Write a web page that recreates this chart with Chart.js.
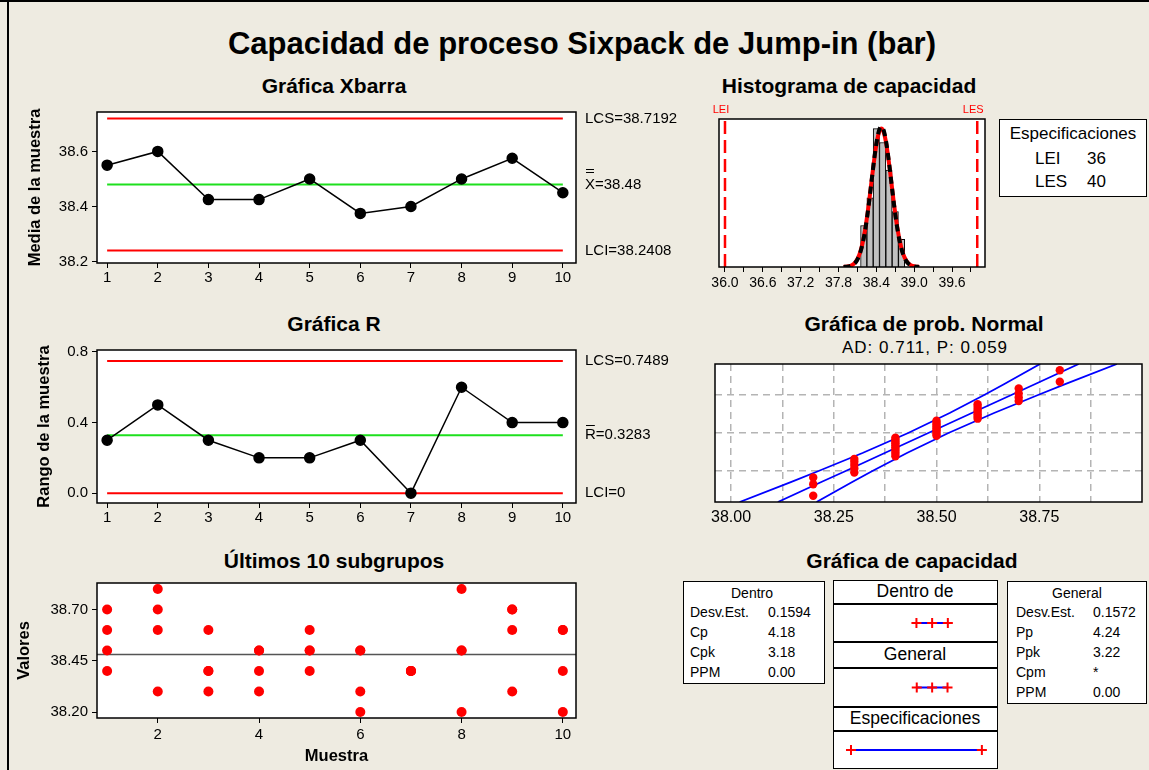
<!DOCTYPE html>
<html lang="es">
<head>
<meta charset="utf-8">
<title>Capacidad de proceso Sixpack de Jump-in (bar)</title>
<script src="https://cdn.jsdelivr.net/npm/chart.js@4.4.1/dist/chart.umd.min.js"></script>
<style>
  html, body { margin: 0; padding: 0; }
  body { width: 1149px; height: 770px; position: relative; overflow: hidden; background: #EEEBE1;
         font-family: "Liberation Sans", Arial, sans-serif; color: #000; }
  .rule { position: absolute; background: #000; }
  .txt { position: absolute; white-space: nowrap; transform: translate(-50%, -50%); line-height: 1; }
  .lft { position: absolute; white-space: nowrap; transform: translateY(-50%); line-height: 1; }
  .box { position: absolute; background: #fff; border: 1.5px solid #000; box-sizing: border-box; }
  canvas { position: absolute; }
</style>
</head>
<body>
<div class="rule" style="left:0;top:0;width:1149px;height:2px"></div>
<div class="rule" style="left:7px;top:0;width:2px;height:770px"></div>
<script>
// ---- data ----
const subgroups = [1, 2, 3, 4, 5, 6, 7, 8, 9, 10];
const sampleMeans = [38.55, 38.6, 38.425, 38.425, 38.5, 38.375, 38.4, 38.5, 38.575, 38.45];
const sampleRanges = [0.3, 0.5, 0.3, 0.2, 0.2, 0.3, 0.0, 0.6, 0.4, 0.4];
const subgroupValues = [
  [38.7, 38.6, 38.5, 38.4],
  [38.8, 38.7, 38.6, 38.3],
  [38.6, 38.4, 38.4, 38.3],
  [38.5, 38.5, 38.4, 38.3],
  [38.6, 38.5, 38.5, 38.4],
  [38.5, 38.5, 38.3, 38.2],
  [38.4, 38.4, 38.4, 38.4],
  [38.8, 38.5, 38.5, 38.2],
  [38.7, 38.7, 38.6, 38.3],
  [38.6, 38.6, 38.4, 38.2]
];
const xbarLimits = [38.7192, 38.48, 38.2408];   // LCS, media, LCI
const rLimits = [0.7489, 0.3283, 0];
const xbarTicks = [38.2, 38.4, 38.6];
const rTicks = [0.0, 0.4, 0.8];
const lastTicksY = [38.20, 38.45, 38.70];
const lastTicksX = [2, 4, 6, 8, 10];

const histBins = [38.2, 38.3, 38.4, 38.5, 38.6, 38.7, 38.8];
const histCounts = [3, 5, 10, 9, 7, 4, 2];
const histTicks = [36.0, 36.3, 36.6, 36.9, 37.2, 37.5, 37.8, 38.1, 38.4, 38.7, 39.0, 39.3, 39.6, 39.9];
const specNames = ["LEI", "LES"];
const specLimits = [36, 40];
const processMean = 38.48;
const sigmaWithin = 0.1594;
const sigmaOverall = 0.1572;

const probTicksX = [38.0, 38.125, 38.25, 38.375, 38.5, 38.625, 38.75, 38.875];
const probGridZ = [-1.2816, 0, 1.2816];
const fitZ = [-2.326, -1.645, -1.2816, -0.674, 0, 0.674, 1.2816, 1.645, 2.326];
const fitLine = [38.114, 38.221, 38.279, 38.374, 38.48, 38.586, 38.682, 38.739, 38.846];
const bandLow = [38.021, 38.147, 38.213, 38.320, 38.431, 38.532, 38.616, 38.664, 38.752];
const bandHigh = [38.208, 38.296, 38.344, 38.428, 38.529, 38.640, 38.747, 38.813, 38.939];

const withinLabels = ["Desv.Est.", "Cp", "Cpk", "PPM"];
const withinValues = ["0.1594", "4.18", "3.18", "0.00"];
const overallLabels = ["Desv.Est.", "Pp", "Ppk", "Cpm", "PPM"];
const overallValues = ["0.1572", "4.24", "3.22", "*", "0.00"];
const capWithin = [38.0, 38.48, 38.96];
const capOverall = [38.01, 38.48, 38.95];

// ---- helpers ----
Chart.defaults.font.family = "'Liberation Sans', Arial, sans-serif";
Chart.defaults.font.size = 15;
Chart.defaults.color = "#000";
Chart.defaults.animation = false;
Chart.defaults.responsive = false;
Chart.defaults.plugins.legend.display = false;
Chart.defaults.plugins.tooltip.enabled = false;

function text(str, x, y, style, cls) {
  const d = document.createElement("div");
  d.className = cls || "txt";
  d.textContent = str;
  d.style.left = x + "px";
  d.style.top = y + "px";
  Object.assign(d.style, style || {});
  document.body.appendChild(d);
}
function box(l, t, r, b) {
  const d = document.createElement("div");
  d.className = "box";
  Object.assign(d.style, { left: l + "px", top: t + "px", width: (r - l) + "px", height: (b - t) + "px" });
  document.body.appendChild(d);
}

// area = [left, top, right, bottom] of the plot box, m = [left, right, top, bottom] margins
function panel(area, m, config) {
  const c = document.createElement("canvas");
  c.width = area[2] - area[0] + m[0] + m[1];
  c.height = area[3] - area[1] + m[2] + m[3];
  c.style.left = (area[0] - m[0]) + "px";
  c.style.top = (area[1] - m[2]) + "px";
  document.body.appendChild(c);
  const sc = config.options.scales;
  const yShown = sc.y.display !== false, xShown = sc.x.display !== false;
  if (yShown) sc.y.afterFit = s => { s.width = m[0]; };
  if (xShown) sc.x.afterFit = s => { s.height = m[3]; };
  config.options.layout = { padding: { left: yShown ? 0 : m[0], right: m[1], top: m[2], bottom: xShown ? 0 : m[3] } };
  return new Chart(c, config);
}

const framePlugin = {
  id: "frame",
  beforeDraw(chart) {
    const a = chart.chartArea, ctx = chart.ctx;
    ctx.save();
    ctx.fillStyle = "#fff";
    ctx.fillRect(a.left, a.top, a.right - a.left, a.bottom - a.top);
    ctx.restore();
  },
  afterDraw(chart) {
    const a = chart.chartArea, ctx = chart.ctx;
    ctx.save();
    ctx.strokeStyle = "#000";
    ctx.lineWidth = 1.5;
    ctx.strokeRect(a.left, a.top, a.right - a.left, a.bottom - a.top);
    ctx.restore();
  }
};

const limitLabels = {
  id: "limitLabels",
  afterDraw(chart, args, opts) {
    if (!opts.items) return;
    const ctx = chart.ctx, ys = chart.scales.y, x0 = chart.chartArea.right + 9;
    ctx.save();
    ctx.font = "15px 'Liberation Sans', Arial, sans-serif";
    ctx.fillStyle = "#000";
    ctx.strokeStyle = "#000";
    ctx.textBaseline = "middle";
    opts.items.forEach(it => {
      const py = ys.getPixelForValue(it.value);
      ctx.fillText(it.text, x0, py);
      (it.bars || []).forEach(off => {
        const w = ctx.measureText(it.text[0]).width;
        ctx.lineWidth = 1;
        ctx.beginPath();
        ctx.moveTo(x0 + 1, Math.round(py - off) + 0.5);
        ctx.lineTo(x0 + w - 1, Math.round(py - off) + 0.5);
        ctx.stroke();
      });
    });
    ctx.restore();
  }
};

function tickAxis(min, max, ticks, fmt, pad, size, extra) {
  return Object.assign({
    type: "linear", min, max, offset: false,
    afterBuildTicks: s => { s.ticks = ticks.map(v => ({ value: v })); },
    ticks: { callback: fmt, padding: pad, font: { size }, maxRotation: 0, autoSkip: false },
    grid: { offset: false, drawOnChartArea: false, drawTicks: true, tickLength: 5, color: "#000", lineWidth: 1 },
    border: { display: false }
  }, extra || {});
}
function hline(value, color, x0, x1, width) {
  return { type: "line", data: [{ x: x0, y: value }, { x: x1, y: value }],
           borderColor: color, borderWidth: width || 2, pointRadius: 0 };
}
const RED = "#FF0000", GREEN = "#1EE01E";
const X_MIN = 0.8, X_MAX = 10.26;

// ---- titles ----
text("Capacidad de proceso Sixpack de Jump-in (bar)", 582, 43, { fontSize: "31px", fontWeight: "bold" });
const subTitle = { fontSize: "21px", fontWeight: "bold" };
text("Gráfica Xbarra", 334, 85, subTitle);
text("Histograma de capacidad", 849, 85, subTitle);
text("Gráfica R", 334, 323, subTitle);
text("Gráfica de prob. Normal", 924, 323, subTitle);
text("AD: 0.711, P: 0.059", 925, 347, { fontSize: "17px", letterSpacing: "1px" });
text("Últimos 10 subgrupos", 334, 560, subTitle);
text("Gráfica de capacidad", 912, 560, subTitle);

// ---- Xbar chart ----
panel([97, 109, 576, 263], [97, 110, 10, 30], {
  type: "scatter",
  data: { datasets: [
    { type: "line", data: subgroups.map((s, i) => ({ x: s, y: sampleMeans[i] })), borderColor: "#000",
      borderWidth: 1.5, pointRadius: 5, pointBackgroundColor: "#000", pointBorderColor: "#000" },
    hline(xbarLimits[1], GREEN, subgroups[0], subgroups[9]),
    hline(xbarLimits[0], RED, subgroups[0], subgroups[9]),
    hline(xbarLimits[2], RED, subgroups[0], subgroups[9])
  ] },
  options: {
    scales: {
      x: tickAxis(X_MIN, X_MAX, subgroups, v => v, 1, 15),
      y: tickAxis(38.195, 38.743, xbarTicks, v => v.toFixed(1), 4, 15,
        { title: { display: true, text: "Media de la muestra", font: { size: 16.5, weight: "bold" }, padding: { top: 26, bottom: 0 } } })
    },
    plugins: { limitLabels: { items: [
      { text: "LCS=" + xbarLimits[0], value: xbarLimits[0] },
      { text: "X=" + xbarLimits[1], value: xbarLimits[1], bars: [12, 15] },
      { text: "LCI=" + xbarLimits[2], value: xbarLimits[2] }
    ] } }
  },
  plugins: [framePlugin, limitLabels]
});

// ---- R chart ----
panel([97, 347, 576, 503], [97, 110, 10, 30], {
  type: "scatter",
  data: { datasets: [
    { type: "line", data: subgroups.map((s, i) => ({ x: s, y: sampleRanges[i] })), borderColor: "#000",
      borderWidth: 1.5, pointRadius: 5, pointBackgroundColor: "#000", pointBorderColor: "#000" },
    hline(rLimits[1], GREEN, subgroups[0], subgroups[9]),
    hline(rLimits[0], RED, subgroups[0], subgroups[9]),
    hline(rLimits[2], RED, subgroups[0], subgroups[9])
  ] },
  options: {
    scales: {
      x: tickAxis(X_MIN, X_MAX, subgroups, v => v, 1, 15),
      y: tickAxis(-0.0556, 0.811, rTicks, v => v.toFixed(1), 4, 15,
        { title: { display: true, text: "Rango de la muestra", font: { size: 16.5, weight: "bold" }, padding: { top: 35, bottom: 0 } } })
    },
    plugins: { limitLabels: { items: [
      { text: "LCS=" + rLimits[0], value: rLimits[0] },
      { text: "R=" + rLimits[1], value: rLimits[1], bars: [10] },
      { text: "LCI=" + rLimits[2], value: rLimits[2] }
    ] } }
  },
  plugins: [framePlugin, limitLabels]
});

// ---- Últimos 10 subgrupos ----
const lastPoints = [];
subgroupValues.forEach((vals, i) => vals.forEach(v => lastPoints.push({ x: subgroups[i], y: v })));
panel([97, 580, 576, 718], [97, 10, 10, 48], {
  type: "scatter",
  data: { datasets: [
    { data: lastPoints, pointRadius: 5, pointBackgroundColor: RED, pointBorderColor: RED, pointBorderWidth: 0 },
    hline(processMean, "#555", X_MIN, X_MAX, 1.5)
  ] },
  options: {
    scales: {
      x: tickAxis(X_MIN, X_MAX, lastTicksX, v => v, 3, 15,
        { title: { display: true, text: "Muestra", font: { size: 16.5, weight: "bold" }, padding: { top: 0, bottom: 0 } } }),
      y: tickAxis(38.171, 38.829, lastTicksY, v => v.toFixed(2), 4, 15,
        { title: { display: true, text: "Valores", font: { size: 16.5, weight: "bold" }, padding: { top: 15, bottom: 0 } } })
    }
  },
  plugins: [framePlugin]
});

// ---- Histograma de capacidad ----
const nObs = subgroupValues.flat().length;
const binWidth = 0.1;
function normalCurve(sd) {
  // fitted normal density (from the displayed mean and Desv.Est.), scaled to counts
  const pts = [];
  for (let x = 37.88; x <= 39.081; x += 0.02) {
    const z = (x - processMean) / sd;
    pts.push({ x, y: nObs * binWidth * Math.exp(-0.5 * z * z) / (sd * Math.sqrt(2 * Math.PI)) });
  }
  return pts;
}
const HIST_YMAX = 10.7;
const specTexts = {
  id: "specTexts",
  afterDraw(chart) {
    const ctx = chart.ctx, xs = chart.scales.x, top = chart.chartArea.top;
    ctx.save();
    ctx.font = "11px 'Liberation Sans', Arial, sans-serif";
    ctx.fillStyle = RED;
    ctx.textAlign = "center";
    ctx.textBaseline = "middle";
    specNames.forEach((n, i) => ctx.fillText(n, xs.getPixelForValue(specLimits[i]) - 4, top - 9));
    ctx.restore();
  }
};
panel([719, 119, 985, 267], [30, 10, 25, 30], {
  type: "scatter",
  data: { datasets: [
    { type: "line", data: normalCurve(sigmaOverall), borderColor: "#000", borderWidth: 4,
      borderDash: [7, 5], pointRadius: 0, tension: 0.3 },
    { type: "line", data: normalCurve(sigmaWithin), borderColor: RED, borderWidth: 4, pointRadius: 0, tension: 0.3 },
    { type: "bar", data: histBins.map((b, i) => ({ x: b, y: histCounts[i] })), backgroundColor: "#C0C0C0",
      borderColor: "#000", borderWidth: 1, barPercentage: 1, categoryPercentage: 1 },
    { type: "line", data: [{ x: specLimits[0], y: 0 }, { x: specLimits[0], y: HIST_YMAX }], borderColor: RED,
      borderWidth: 2.5, borderDash: [13, 6], pointRadius: 0 },
    { type: "line", data: [{ x: specLimits[1], y: 0 }, { x: specLimits[1], y: HIST_YMAX }], borderColor: RED,
      borderWidth: 2.5, borderDash: [13, 6], pointRadius: 0 }
  ] },
  options: {
    scales: {
      x: tickAxis(35.905, 40.123, histTicks, (v, i) => (i % 2 === 0 ? v.toFixed(1) : ""), 3, 14),
      y: { type: "linear", min: 0, max: HIST_YMAX, display: false }
    }
  },
  plugins: [framePlugin, specTexts]
});

// spec legend
box(999, 119, 1147, 197);
text("Especificaciones", 1073, 133, { fontSize: "17px" });
specNames.forEach((n, i) => {
  text(n, 1035, 158 + 23 * i, { fontSize: "17px" }, "lft");
  text(String(specLimits[i]), 1087, 158 + 23 * i, { fontSize: "17px" }, "lft");
});

// ---- Gráfica de prob. Normal ----
function normInv(p) {
  const q = p < 0.5 ? p : 1 - p;
  const t = Math.sqrt(-2 * Math.log(q));
  const z = t - (2.515517 + 0.802853 * t + 0.010328 * t * t) /
    (1 + 1.432788 * t + 0.189269 * t * t + 0.001308 * t * t * t);
  return p < 0.5 ? -z : z;
}
const sortedValues = subgroupValues.flat().sort((a, b) => a - b);
const probPoints = sortedValues.map((v, i) => ({ x: v, y: normInv((i + 1 - 0.3) / (nObs + 0.4)) }));
const blueLine = xs => ({ type: "line", data: fitZ.map((z, i) => ({ x: xs[i], y: z })),
  borderColor: "#0000FF", borderWidth: 1.8, pointRadius: 0 });
const dashedGrid = { drawOnChartArea: true, drawTicks: false, color: "#B4B4B4", lineWidth: 1.5 };
panel([715, 364, 1142, 502], [30, 5, 10, 30], {
  type: "scatter",
  data: { datasets: [
    { data: probPoints, pointRadius: 4.2, pointBackgroundColor: RED, pointBorderWidth: 0 },
    blueLine(fitLine), blueLine(bandLow), blueLine(bandHigh)
  ] },
  options: {
    scales: {
      x: tickAxis(37.961, 39.0, probTicksX, (v, i) => (i % 2 === 0 ? v.toFixed(2) : ""), 6, 16,
        { grid: dashedGrid, border: { display: false, dash: [7, 5] } }),
      y: tickAxis(-2.326, 2.326, probGridZ, () => "", 0, 15,
        { grid: dashedGrid, border: { display: false, dash: [7, 5] }, ticks: { display: false } })
    }
  },
  plugins: [framePlugin]
});

// ---- Gráfica de capacidad ----
box(683, 581, 825, 684);
text("Dentro", 752, 593, { fontSize: "14px" });
withinLabels.forEach((l, i) => {
  text(l, 690, 612 + 20 * i, { fontSize: "14px" }, "lft");
  text(withinValues[i], 768, 612 + 20 * i, { fontSize: "14px" }, "lft");
});
box(1007, 581, 1147, 704);
text("General", 1077, 593, { fontSize: "14px" });
overallLabels.forEach((l, i) => {
  text(l, 1016, 612 + 20 * i, { fontSize: "14px" }, "lft");
  text(overallValues[i], 1093, 612 + 20 * i, { fontSize: "14px" }, "lft");
});

const capRows = [
  { head: "Dentro de", h: [580, 604], p: [604, 642], marks: capWithin },
  { head: "General", h: [642, 668], p: [668, 707], marks: capOverall },
  { head: "Especificaciones", h: [707, 731], p: [731, 769], marks: specLimits }
];
capRows.forEach(row => {
  box(833, row.h[0], 998, row.h[1]);
  text(row.head, 915, (row.h[0] + row.h[1]) / 2, { fontSize: "17.5px" });
  box(833, row.p[0], 998, row.p[1]);
  panel([833, row.p[0], 998, row.p[1]], [0, 0, 0, 0], {
    type: "scatter",
    data: { datasets: [
      { type: "line", data: row.marks.map(v => ({ x: v, y: 0 })), borderColor: "#0000FF", borderWidth: 2,
        pointStyle: "cross", pointRadius: 5, pointBorderColor: RED, pointBorderWidth: 2 }
    ] },
    options: {
      scales: {
        x: { type: "linear", min: 35.664, max: 40.279, display: false },
        y: { type: "linear", min: -1, max: 1, display: false }
      }
    }
  });
});
</script>
</body>
</html>
